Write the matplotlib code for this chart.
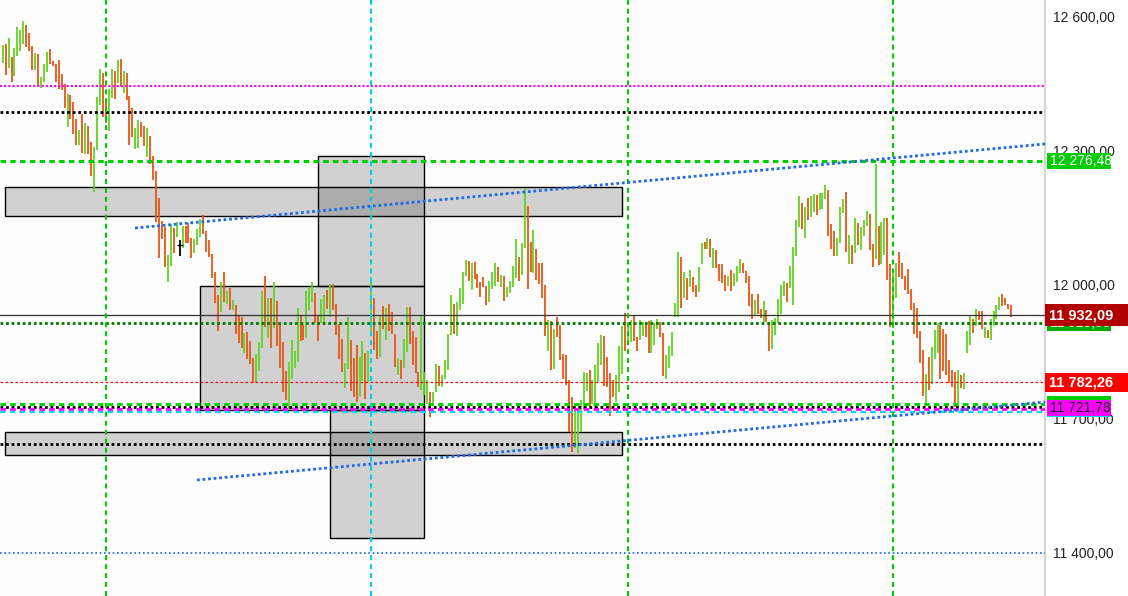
import matplotlib
matplotlib.use("Agg")
import matplotlib.pyplot as plt
from matplotlib.patches import Rectangle
from matplotlib.transforms import blended_transform_factory
from matplotlib.ticker import FixedLocator, FuncFormatter

plt.rcParams['font.family'] = ['Liberation Sans', 'DejaVu Sans']

# ---------------- data ----------------
bar_dir = ("GOGOGGGGOO" "OGOGGGOOOO" "OOGOOOGOGO" "OGGGOOGGOG" "OGOOOGGOOG"
           "OOOOOOGGOG" "KGOOOGGGOO" "OOOOGOGOGO" "OOGOOOGGGO" "GOGOOOOGGG"
           "GOOGGGOOGG" "OGOOOOGGOO" "OGGOGGOOGO" "GOOOGOGGOO" "OOGGGOGGOG"
           "GGGOGGGGOG" "OOOOOGGGOG" "OGGGGOGGOO" "GOOOOGOGOO" "OOOOGGGGGO"
           "GGGGOOOOGG" "GOGGOOGGOO" "GGGOOGGGGG" "OGOGOOGGOG" "OGOOOOGOGG"
           "GOOOOGOOGO" "OGGGGGOGGG" "GOGOGGOGGG" "OOOGGGOGOG" "OGGGOOGOGG"
           "OOGGOOOOOO" "OOOGOGGGOO" "OOOOGOGGGO" "GOOGOGGGGO" "OOO")

highs = [
    12537, 12539, 12553, 12510, 12531, 12578, 12571, 12591, 12582, 12564,
    12535, 12519, 12517, 12466, 12495, 12522, 12528, 12501, 12495, 12504,
    12472, 12450, 12427, 12425, 12410, 12372, 12347, 12383, 12363, 12356,
    12320, 12309, 12421, 12484, 12475, 12410, 12439, 12484, 12479, 12504,
    12506, 12479, 12475, 12423, 12396, 12351, 12369, 12365, 12356, 12351,
    12334, 12289, 12255, 12195, 12143, 12130, 12067, 12137, 12128, 12141,
    12101, 12132, 12132, 12139, 12105, 12103, 12125, 12148, 12157, 12121,
    12101, 12069, 12029, 11978, 12007, 12029, 11986, 11993, 11966, 11955,
    11931, 11928, 11892, 11895, 11875, 11837, 11845, 11872, 11986, 12020,
    11971, 11971, 12007, 11964, 11913, 11872, 11807, 11828, 11877, 11852,
    11948, 11933, 11910, 11986, 11995, 12007, 11982, 11933, 11969, 11978,
    11989, 12002, 12002, 11957, 11913, 11879, 11825, 11928, 11877, 11837,
    11866, 11839, 11875, 11848, 11852, 12013, 11971, 11897, 11930, 11953,
    11948, 11957, 11939, 11890, 11837, 11832, 11879, 11951, 11951, 11897,
    11884, 11805, 11930, 11805, 11787, 11760, 11760, 11823, 11819, 11798,
    11832, 11890, 11978, 11957, 11962, 11993, 12029, 12056, 12054, 12049,
    12051, 12025, 12007, 12018, 11998, 12009, 12029, 12049, 12040, 12022,
    12020, 11995, 12009, 12042, 12103, 12063, 12094, 12217, 12177, 12096,
    12123, 12081, 12049, 12049, 12000, 11922, 11919, 11901, 11928, 11910,
    11845, 11843, 11787, 11749, 11731, 11722, 11742, 11805, 11803, 11810,
    11787, 11821, 11870, 11888, 11886, 11839, 11803, 11787, 11798, 11863,
    11908, 11937, 11906, 11922, 11930, 11884, 11922, 11917, 11915, 11919,
    11922, 11915, 11924, 11917, 11892, 11843, 11863, 11895, 11960, 12074,
    12063, 12029, 12016, 12034, 12018, 12000, 12040, 12094, 12096, 12105,
    12103, 12083, 12078, 12047, 12047, 12022, 12020, 12034, 12027, 12042,
    12058, 12049, 12031, 12020, 11980, 11966, 11980, 11946, 11964, 11944,
    11917, 11922, 11926, 11969, 12000, 12009, 12004, 12042, 12085, 12145,
    12199, 12184, 12175, 12195, 12199, 12204, 12202, 12206, 12206, 12224,
    12213, 12137, 12121, 12105, 12175, 12193, 12208, 12112, 12090, 12150,
    12139, 12130, 12145, 12166, 12159, 12092, 12271, 12132, 12141, 12150,
    12150, 12047, 12025, 12049, 12074, 12049, 12020, 12036, 11991, 11960,
    11948, 11897, 11854, 11801, 11839, 11861, 11899, 11915, 11910, 11901,
    11890, 11832, 11810, 11805, 11810, 11798, 11803, 11897, 11930, 11924,
    11946, 11942, 11942, 11906, 11899, 11924, 11942, 11955, 11973, 11980,
    11971, 11957, 11955,
]

lows = [
    12497, 12470, 12486, 12454, 12468, 12513, 12524, 12539, 12533, 12524,
    12481, 12481, 12443, 12441, 12454, 12477, 12495, 12490, 12454, 12439,
    12436, 12396, 12354, 12372, 12338, 12313, 12313, 12295, 12293, 12293,
    12244, 12208, 12302, 12403, 12376, 12363, 12345, 12419, 12416, 12452,
    12443, 12430, 12414, 12313, 12331, 12304, 12307, 12331, 12311, 12287,
    12271, 12235, 12141, 12060, 12103, 12040, 12007, 12042, 12072, 12107,
    12065, 12083, 12094, 12094, 12060, 12072, 12090, 12107, 12114, 12074,
    12063, 12016, 11960, 11897, 11940, 11962, 11957, 11944, 11944, 11890,
    11870, 11859, 11848, 11834, 11823, 11781, 11783, 11807, 11859, 11906,
    11881, 11859, 11904, 11863, 11814, 11760, 11742, 11720, 11789, 11814,
    11828, 11875, 11877, 11881, 11944, 11962, 11915, 11875, 11915, 11915,
    11946, 11928, 11944, 11888, 11834, 11805, 11769, 11812, 11763, 11749,
    11738, 11749, 11785, 11745, 11783, 11892, 11854, 11834, 11839, 11901,
    11877, 11897, 11890, 11816, 11798, 11789, 11814, 11850, 11868, 11821,
    11803, 11772, 11765, 11754, 11734, 11704, 11736, 11760, 11774, 11772,
    11789, 11810, 11888, 11890, 11886, 11944, 11957, 12020, 12009, 11989,
    12013, 11993, 11973, 11995, 11955, 11962, 11991, 11998, 12007, 11995,
    11964, 11973, 11982, 11995, 12016, 12009, 12022, 12083, 11991, 12029,
    12027, 12011, 12002, 11971, 11886, 11852, 11810, 11812, 11884, 11832,
    11789, 11776, 11671, 11626, 11635, 11624, 11671, 11720, 11763, 11727,
    11734, 11725, 11783, 11821, 11774, 11772, 11707, 11749, 11738, 11760,
    11801, 11852, 11866, 11872, 11875, 11852, 11877, 11886, 11884, 11848,
    11848, 11866, 11901, 11884, 11796, 11789, 11814, 11841, 11928, 11928,
    11948, 11971, 11966, 11995, 11984, 11973, 11984, 12047, 12081, 12081,
    12063, 12038, 12038, 12009, 12004, 11986, 11998, 11986, 11998, 12007,
    12027, 12027, 12004, 11953, 11924, 11933, 11935, 11926, 11917, 11917,
    11852, 11857, 11888, 11915, 11935, 11975, 11962, 11993, 11955, 12065,
    12130, 12125, 12105, 12145, 12152, 12163, 12157, 12168, 12170, 12192,
    12110, 12081, 12065, 12065, 12094, 12161, 12074, 12047, 12047, 12072,
    12090, 12078, 12110, 12132, 12078, 12040, 12058, 12045, 12047, 12067,
    12011, 11906, 11904, 11971, 12018, 12013, 11989, 11980, 11944, 11890,
    11881, 11825, 11751, 11736, 11765, 11778, 11834, 11848, 11789, 11807,
    11798, 11781, 11772, 11727, 11734, 11769, 11767, 11848, 11866, 11892,
    11908, 11922, 11901, 11881, 11881, 11877, 11908, 11924, 11944, 11953,
    11955, 11946, 11928,
]

doji_index = 60
doji_price = 12090

y_ticks = [11400, 11700, 12000, 12300, 12600]

# horizontal levels: (price, color, linewidth, dash pattern)
levels = [
    (12445.5, '#ff00ff', 1.5, (0, (1.0, 1.0))),
    (12387.0, '#000000', 2.0, (0, (1.0, 1.0))),
    (12276.48, '#00cc00', 2.2, (0, (1.8, 1.4))),
    (11932.09, '#333333', 0.9, '-'),
    (11915.55, '#007a00', 2.0, (0, (1.0, 1.0))),
    (11782.26, '#ff0000', 0.9, (0, (2.0, 2.0))),
    (11733.0, '#00cc00', 2.0, (0, (2.0, 1.5))),
    (11727.0, '#000000', 2.0, (0, (1.0, 1.0))),
    (11721.78, '#ff00ff', 2.0, (0, (2.0, 1.5))),
    (11716.0, '#00d8f0', 1.6, (0, (2.5, 1.9))),
    (11643.0, '#000000', 2.0, (0, (1.0, 1.0))),
    (11400.0, '#1a66e0', 1.2, (0, (1.0, 1.6))),
]

# vertical time markers (bar index, color)
vmarks = [(35, '#00cc00'), (125, '#00d0f0'), (212, '#00cc00'), (302, '#00cc00')]

# zones: (x0, x1, price_low, price_high)
zones = [
    (0.8, 210.0, 12154.4, 12219.4),
    (106.9, 142.9, 11998.2, 12288.7),
    (66.9, 142.9, 11720.1, 11998.2),
    (0.8, 210.0, 11619.4, 11670.8),
    (111.0, 142.9, 11433.5, 11720.1),
]

# trend lines: ((x0, p0), (x1, p1))
trends = [((44.9, 12127.6), (353.45, 12315.7)),
          ((65.9, 11563.4), (353.45, 11738.0))]

# price tags: (price, text, face, text color, bold, x0px, x1px, half-height px)
tags = [
    (12276.48, '12 276,48', '#00cc00', 'white', False, 1047, 1111, 8),
    (11915.55, '11 915,55', '#00aa00', 'white', False, 1047, 1111, 8),
    (11932.09, '11 932,09', '#b00000', 'white', True, 1045, 1128, 11),
    (11782.26, '11 782,26', '#ff0000', 'white', True, 1045, 1128, 9.5),
    (11733.0, '', '#00cc00', 'white', False, 1047, 1111, 8),
    (11716.0, '', '#00d8f0', 'white', False, 1047, 1111, 5),
    (11725.0, '11 721,78', '#ff00ff', '#222222', False, 1047, 1111, 8),
]

# ---------------- figure ----------------
W, H = 1128, 596
fig = plt.figure(figsize=(W / 100, H / 100), dpi=100)
fig.patch.set_facecolor('white')
ax = fig.add_axes([0, 0, 1045 / W, 1])
ax.set_facecolor('#fdfdfd')

n = min(len(highs), len(lows), len(bar_dir))
xs = list(range(n))
col_map = {'G': '#62d322', 'O': '#ea5514', 'K': '#000000'}
cols = [col_map[c] for c in bar_dir[:n]]
ax.vlines(xs, lows[:n], highs[:n], colors=cols, linewidth=1.3, zorder=2)
ax.plot([doji_index], [doji_price], marker='_', color='black', markersize=5,
        markeredgewidth=1.0, zorder=2)

for x0, x1, p0, p1 in zones:
    ax.add_patch(Rectangle((x0, p0), x1 - x0, p1 - p0, facecolor=(0, 0, 0, 0.173),
                           edgecolor='black', linewidth=1.0, zorder=1))

for price, c, lw, ls in levels:
    ax.axhline(price, color=c, linewidth=lw, linestyle=ls, zorder=3)

for xi, c in vmarks:
    ax.axvline(xi, color=c, linewidth=1.5, linestyle=(0, (2.4, 1.9)), zorder=3)

for (x0, p0), (x1, p1) in trends:
    ax.plot([x0, x1], [p0, p1], color='#1f6ae8', linewidth=2.0,
            linestyle=(0, (1.0, 1.0)), zorder=3, solid_capstyle='butt')

ax.set_xlim(-0.905, 353.45)
ax.set_ylim(11303.7, 12638.0)

for s in ['left', 'top', 'bottom']:
    ax.spines[s].set_visible(False)
ax.spines['right'].set_color('#d6d6d6')
ax.spines['right'].set_linewidth(1.6)
ax.set_xticks([])
ax.yaxis.set_major_locator(FixedLocator(y_ticks))
ax.yaxis.set_major_formatter(FuncFormatter(
    lambda v, p: f"{v:,.2f}".replace(',', ' ').replace('.', ',')))
ax.tick_params(axis='y', which='both', length=0, pad=6, labelright=True,
               labelleft=False, labelsize=10, labelcolor='#222222')

# price tags (each tag stacked above the previous one)
ppx = (12638.0 - 11303.7) / H
trans = blended_transform_factory(fig.transFigure, ax.transData)
for i, (price, txt, fc, tc, bold, x0, x1, hh) in enumerate(tags):
    z = 5 + 2 * i
    ax.add_patch(Rectangle((x0 / W, price - hh * ppx), (x1 - x0) / W, 2 * hh * ppx,
                           transform=trans, facecolor=fc, edgecolor='none',
                           clip_on=False, zorder=z))
    if txt:
        ax.text((x0 + 3) / W if x0 > 1045 else 1049 / W, price, txt, transform=trans,
                color=tc, fontsize=10.5 if bold else 10,
                fontweight='bold' if bold else 'normal', va='center', ha='left',
                clip_on=False, zorder=z + 1)

fig.savefig('out.png', dpi=100, facecolor='white')
